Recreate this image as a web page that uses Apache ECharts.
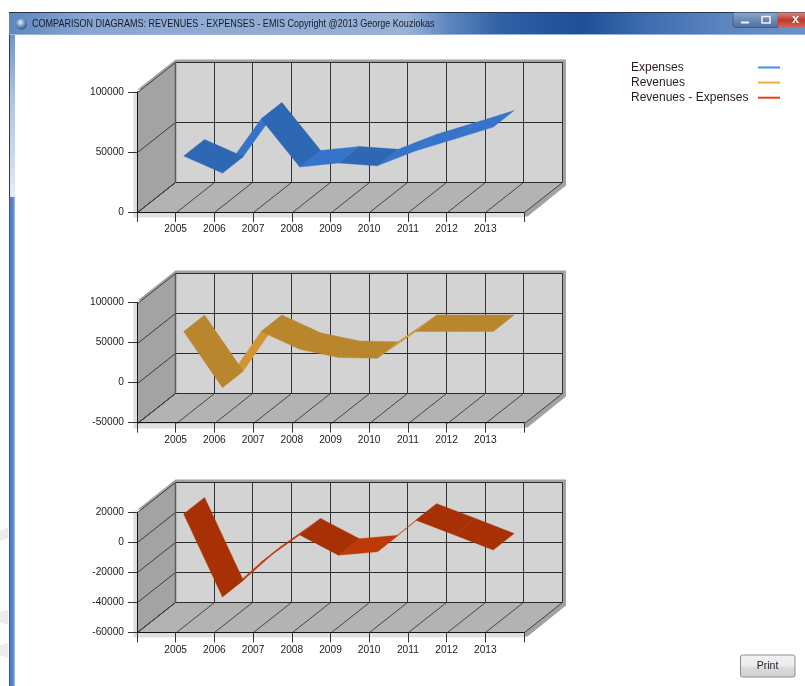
<!DOCTYPE html>
<html><head><meta charset="utf-8">
<style>html,body{margin:0;padding:0;background:#fff}#c{width:805px;height:686px}</style>
<script src="https://cdn.jsdelivr.net/npm/echarts@6/dist/echarts.min.js"></script>
</head><body><div id="c"></div>
<script>
const xLabels = ['', '2005','2006','2007','2008','2009','2010','2011','2012','2013',''];
const expenses = [41400, 27200, 72200, 32200, 35600, 33200, 45800, 55500, 65500];
const revenues = [55900, -14100, 55900, 33700, 23500, 22500, 56000, 56000, 56000];
const difference = [14800, -40500, -17500, 800, -12700, -10500, 10600, 800, -9300];
const seriesNames = ['Expenses', 'Revenues', 'Revenues - Expenses'];
const yMins = [0, -50000, -60000];
const yMaxs = [100000, 100000, 20000];
const yIntervals = [50000, 50000, 20000];
const legendColors = ['#3f8dfa', '#f4a93e', '#e8410c'];
const darkColors = ['#2e68b4', '#b9862e', '#a83005'];
const lightColors = ['#3674cb', '#d09537', '#bf3806'];
const gridTops = [92, 302.6, 512.4];

const DX = 38, DY = -30, F0 = 0.21, F1 = 0.76;
const FONT = '"Liberation Sans"';
const allValues = [expenses, revenues, difference];

function line(x1, y1, x2, y2, stroke, w) {
  return {type:'line', shape:{x1,y1,x2,y2}, style:{stroke, lineWidth:w||1}};
}
function poly(points, fill) {
  return {type:'polygon', shape:{points}, style:{fill}};
}
function frameRenderer(k) {
  return function (params, api) {
    const p0 = api.coord([0, yMaxs[k]]), p1 = api.coord([xLabels.length - 1, yMins[k]]);
    const x0 = Math.round(p0[0]) + .5, y0 = Math.round(p0[1]) + .5, x1 = Math.round(p1[0]) + .5, y1 = Math.round(p1[1]) + .5;
    const ch = [];
    ch.push(poly([[x0-4,y0-1],[x0-4,y1+5],[x1,y1+5],[x1,y0]], '#dfdfdf'));
    ch.push(poly([[x0,y0-3],[x0+DX,y0+DY-3],[x1+DX+3.5,y0+DY-3],[x1+DX+3.5,y1+DY+3],[x1+3,y1+4],[x1,y1+4],[x1,y0]], '#a2a2a2'));
    ch.push(poly([[x0+DX,y0+DY],[x1+DX,y0+DY],[x1+DX,y1+DY],[x0+DX,y1+DY]], '#d3d3d3'));
    ch.push(poly([[x0,y0],[x0+DX,y0+DY],[x0+DX,y1+DY],[x0,y1]], '#a3a3a3'));
    ch.push(poly([[x0,y1],[x0+DX,y1+DY],[x1+DX,y1+DY],[x1,y1]], '#b3b3b3'));
    for (let v = yMins[k]; v <= yMaxs[k]; v += yIntervals[k]) {
      const y = Math.round(api.coord([0, v])[1]) + .5;
      const isBase = v === yMins[k];
      ch.push(line(x0, y, x0+DX, y+DY, isBase ? '#000' : '#3c3c3c'));
      ch.push(line(x0+DX, y+DY, x1+DX, y+DY, '#2b2b2b'));
    }
    for (let i = 0; i < xLabels.length; i++) {
      const x = Math.round(api.coord([i, yMins[k]])[0]) + .5;
      ch.push(line(x, y1, x+DX, y1+DY, '#444'));
      ch.push(line(x+DX, y0+DY, x+DX, y1+DY, i === 0 ? '#5a5a5a' : '#333', i === 0 ? 1.5 : 1));
    }
    return {type:'group', children:ch};
  };
}
function ribbonRenderer(k) {
  return function (params, api) {
    const i = api.value(0), a = api.value(1), b = api.value(2);
    const pt = (ci, v, f) => { const c = api.coord([ci, v]); return [c[0]+DX*f, c[1]+DY*f]; };
    const fill = b > a ? lightColors[k] : darkColors[k];
    return {type:'polygon', shape:{points:[pt(i,a,F0), pt(i+1,b,F0), pt(i+1,b,F1), pt(i,a,F1)]},
      style:{fill, stroke:fill, lineWidth:.4}};
  };
}
function segments(vals) {
  const out = [];
  for (let j = 0; j < vals.length - 1; j++) out.push([j + 1, vals[j], vals[j + 1]]);
  return out.sort((p, q) => (q[2] > q[1] ? 1 : 0) - (p[2] > p[1] ? 1 : 0));
}

const grids = [], xAxes = [], yAxes = [], series = [];
seriesNames.forEach((name, k) => {
  grids.push({left:137, width:387, top:gridTops[k], height:120, containLabel:false});
  xAxes.push({type:'category', gridIndex:k, boundaryGap:false, data:xLabels,
    axisLine:{show:true, onZero:false, lineStyle:{color:'#111', width:1}},
    axisTick:{show:true, inside:false, length:10, alignWithLabel:true, lineStyle:{color:'#333'}},
    axisLabel:{show:true, interval:0, margin:12.5, color:'#222', fontFamily:FONT, fontSize:10.2},
    splitLine:{show:false}});
  yAxes.push({type:'value', gridIndex:k, min:yMins[k], max:yMaxs[k], interval:yIntervals[k],
    axisLine:{show:true, onZero:false, lineStyle:{color:'#111', width:1}},
    axisTick:{show:true, length:9, lineStyle:{color:'#333'}},
    axisLabel:{margin:13, color:'#222', fontFamily:FONT, fontSize:10.2, formatter:v => String(v)},
    splitLine:{show:false}});
  series.push({type:'custom', xAxisIndex:k, yAxisIndex:k, z:-1, silent:true, clip:false,
    data:[[0, yMins[k]]], encode:{x:0, y:1}, renderItem:frameRenderer(k)});
  series.push({type:'custom', name, xAxisIndex:k, yAxisIndex:k, z:3, silent:true, clip:false,
    itemStyle:{color:legendColors[k]},
    data:segments(allValues[k]), encode:{x:0, y:[1,2]}, renderItem:ribbonRenderer(k)});
});

const chrome = [
  {type:'rect', z:100, shape:{x:9,y:35,width:6,height:162}, style:{fill:{type:'linear',x:0,y:0,x2:0,y2:1,colorStops:[{offset:0,color:'#6f96cc'},{offset:.35,color:'#a9c0e0'},{offset:.7,color:'#c5d5ea'},{offset:1,color:'#e6edf6'}]}}},
  {type:'rect', z:100, shape:{x:9,y:197,width:6,height:489}, style:{fill:{type:'linear',x:0,y:0,x2:1,y2:0,colorStops:[{offset:0,color:'#2b3a55'},{offset:.17,color:'#4f7cc0'},{offset:.6,color:'#5583c6'},{offset:1,color:'#a5bcdc'}]}}},
  {type:'rect', z:100, shape:{x:9,y:35,width:1,height:162}, style:{fill:'#2b3a55'}},
  {type:'rect', z:100, shape:{x:9,y:12,width:796,height:23}, style:{fill:{type:'linear',x:0,y:0,x2:1,y2:0,colorStops:[{offset:0,color:'#5f86bf'},{offset:.1,color:'#8aa6d0'},{offset:.5,color:'#9bb1d6'},{offset:.55,color:'#5f88c0'},{offset:.62,color:'#2f5fa5'},{offset:.72,color:'#1f4f96'},{offset:.8,color:'#3d6cb0'},{offset:.9,color:'#5c86c0'},{offset:1,color:'#6a92c8'}]}}},
  {type:'rect', z:100, shape:{x:9,y:12,width:796,height:1}, style:{fill:'#26354c'}},
  {type:'rect', z:100, shape:{x:9,y:34,width:796,height:1}, style:{fill:'#9ab4d8'}},
  {type:'circle', z:101, shape:{cx:21.5,cy:24,r:5.5}, style:{fill:{type:'radial',x:.4,y:.35,r:.7,colorStops:[{offset:0,color:'#e8f0f8'},{offset:.55,color:'#6d93bd'},{offset:1,color:'#2d4a78'}]}}},
  {type:'text', z:101, x:32, y:24, scaleX:0.868, style:{x:0,y:0,text:'COMPARISON DIAGRAMS: REVENUES - EXPENSES - EMIS Copyright @2013 George Kouziokas',font:'10.4px "Liberation Sans"',fill:'#141c2c',verticalAlign:'middle'}},
  {type:'rect', z:101, shape:{x:733,y:12.5,width:45,height:15,r:[0,0,0,3]}, style:{fill:{type:'linear',x:0,y:0,x2:0,y2:1,colorStops:[{offset:0,color:'#8ea8cc'},{offset:.5,color:'#6b8ab3'},{offset:1,color:'#4d6f9e'}]},stroke:'#3d5474',lineWidth:.7}},
  {type:'rect', z:101, shape:{x:778,y:12.5,width:28,height:15}, style:{fill:{type:'linear',x:0,y:0,x2:0,y2:1,colorStops:[{offset:0,color:'#d58b83'},{offset:.5,color:'#c2372c'},{offset:1,color:'#d0675a'}]}}},
  {type:'rect', z:102, shape:{x:741,y:21.5,width:8,height:2}, style:{fill:'#f1f4f8'}},
  {type:'rect', z:102, shape:{x:762,y:16.5,width:8,height:6.5}, style:{fill:'none',stroke:'#eef2f7',lineWidth:1.5}},
  {type:'text', z:102, style:{x:795.5,y:19.5,text:'x',font:'bold 13px "Liberation Sans"',fill:'#f4f4f4',align:'center',verticalAlign:'middle'}},
  {type:'polygon', z:100, shape:{points:[[0,531],[8,527],[8,538],[0,541]]}, style:{fill:'#ececec'}},
  {type:'polygon', z:100, shape:{points:[[0,612],[8,610],[8,625],[0,622]]}, style:{fill:'#ececec'}},
  {type:'polygon', z:100, shape:{points:[[0,645],[8,643],[8,658],[0,655]]}, style:{fill:'#ececec'}},
  {type:'rect', z:100, shape:{x:740.5,y:655,width:54.5,height:22,r:2}, style:{fill:{type:'linear',x:0,y:0,x2:0,y2:1,colorStops:[{offset:0,color:'#f3f3f3'},{offset:.5,color:'#ebebeb'},{offset:.55,color:'#dcdcdc'},{offset:1,color:'#cfcfcf'}]},stroke:'#8b8f94',lineWidth:1}},
  {type:'text', z:101, style:{x:767.5,y:666,text:'Print',font:'10.5px "Liberation Sans"',fill:'#1a1a2a',align:'center',verticalAlign:'middle'}}
];

const chart = echarts.init(document.getElementById('c'), null, {renderer:'canvas'});
chart.setOption({
  animation:false, backgroundColor:'#fff',
  grid:grids, xAxis:xAxes, yAxis:yAxes, series,
  legend:{show:true, left:626, top:56.5, orient:'vertical', align:'right', icon:'rect', itemWidth:22, itemHeight:2, itemGap:3.1, selectedMode:false,
    formatter:'{a|{name}}',
    textStyle:{color:'#2a1c1c', fontFamily:FONT, fontSize:12, padding:0, rich:{a:{width:122, align:'left', lineHeight:14, fontSize:12, fontFamily:FONT, color:'#2a1c1c'}}},
    data:seriesNames.map((name, k) => ({name, itemStyle:{color:legendColors[k]}}))},
  graphic:{elements:chrome}
});
</script></body></html>
